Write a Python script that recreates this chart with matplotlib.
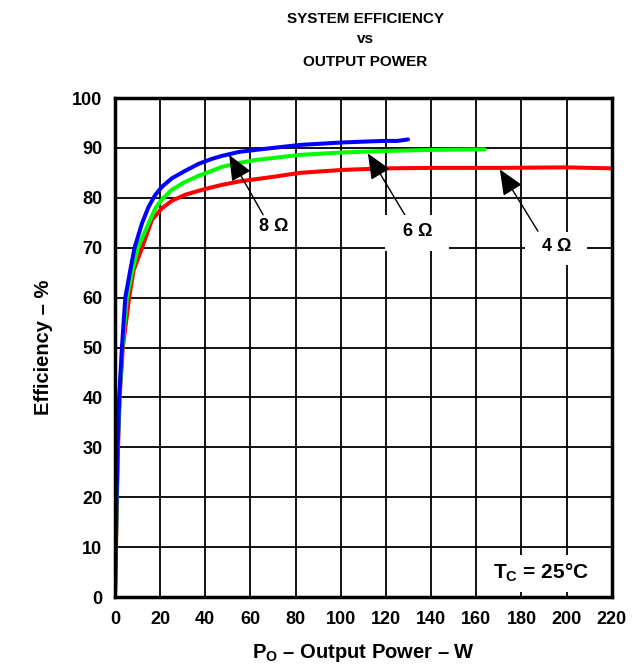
import matplotlib
matplotlib.use("Agg")
import matplotlib.pyplot as plt
from matplotlib.patches import Rectangle

plt.rcParams['font.family'] = ['Liberation Sans', 'DejaVu Sans']
plt.rcParams['font.weight'] = 'bold'
plt.rcParams['mathtext.fontset'] = 'custom'
plt.rcParams['mathtext.rm'] = 'Liberation Sans:bold'
plt.rcParams['mathtext.bf'] = 'Liberation Sans:bold'
plt.rcParams['mathtext.it'] = 'Liberation Sans:bold'

# 8 ohm (blue)
p_8 = [0, 0.4, 0.75, 1.2, 1.9, 3.1, 4.6, 6.8, 8.7, 12.0, 14.9, 17.9, 20.8,
       25.2, 31.1, 37.0, 42.9, 47.4, 55, 64.2, 81.9, 101, 118.7, 125, 129.8]
e_8 = [0, 10, 20, 30, 40, 50, 60, 65.5, 70, 74.9, 78.2, 80.6, 82.2,
       83.9, 85.4, 86.8, 87.8, 88.4, 89.2, 89.7, 90.6, 91.1, 91.4, 91.4, 91.7]
# 6 ohm (green)
p_6 = [0, 0.45, 0.8, 1.3, 2.0, 3.3, 5.3, 7.8, 10.2, 14.9, 17.9, 20.8, 25.2,
       31.1, 37.0, 42.9, 47.4, 55, 62.7, 81.9, 101, 120.2, 140.8, 163.7]
e_6 = [0, 10, 20, 30, 40, 50, 60, 65.5, 70, 74.9, 77.9, 79.7, 81.6,
       83.2, 84.4, 85.4, 86.2, 87.0, 87.6, 88.6, 89.1, 89.4, 89.6, 89.7]
# 4 ohm (red)
p_4 = [0, 0.5, 0.9, 1.4, 2.1, 3.5, 6.3, 8.3, 12.0, 16.4, 20.8, 25.2, 31.1,
       37.0, 42.9, 47.4, 55.3, 70, 81.9, 101, 120.2, 140.8, 170.4, 199.9, 219.8]
e_4 = [0, 10, 20, 30, 40, 50, 60, 65.5, 70, 75.6, 77.9, 79.4, 80.6,
       81.4, 82.1, 82.6, 83.3, 84.2, 85.0, 85.6, 85.9, 86.0, 86.0, 86.1, 85.9]

x_ticks = list(range(0, 221, 20))
y_ticks = list(range(0, 101, 10))

labels = ['8 Ω', '6 Ω', '4 Ω']
label_pos = [(70.1, 74.2), (133.9, 73.2), (195.5, 70.2)]
arrow_tail = [(65.6, 76.6), (128.6, 76.4), (187.3, 73.3)]
arrow_tip = [(50.6, 88.6), (112.0, 88.9), (170.4, 85.7)]
# white boxes behind labels: (x0, y0, x1, y1) in data units
label_boxes = [(62.0, 71.9, 78.4, 76.1), (119.7, 69.3, 147.9, 76.6),
               (181.5, 66.5, 208.9, 73.1)]

fig = plt.figure(figsize=(6.42, 6.64), dpi=100)
ax = fig.add_axes([0.179, 0.1009, 0.774, 0.7515])

ax.set_xlim(0, 220)
ax.set_ylim(0, 100)
ax.set_xticks(x_ticks)
ax.set_yticks(y_ticks)
ax.tick_params(length=0, labelsize=13)
ax.tick_params(axis='x', pad=10)
ax.tick_params(axis='y', pad=9)
for lab in ax.get_xticklabels() + ax.get_yticklabels():
    lab.set_fontweight('bold')
ax.grid(True, color='black', linewidth=1.3)
ax.set_axisbelow(True)
for s in ax.spines.values():
    s.set_linewidth(2.5)
    s.set_color('black')
    s.set_zorder(10)

line_kw = dict(lw=2.9, solid_capstyle='round', solid_joinstyle='round')
ax.plot(p_4, e_4, color='#ff0000', zorder=3, **line_kw)
ax.plot(p_6, e_6, color='#00ff00', zorder=4, **line_kw)
ax.plot(p_8, e_8, color='#0000ff', zorder=5, **line_kw)

for lab, pos, tail, tip, bx in zip(labels, label_pos, arrow_tail, arrow_tip, label_boxes):
    ax.annotate('', xy=tip, xytext=tail,
                arrowprops=dict(arrowstyle='-|>,head_length=1.05,head_width=0.45',
                                mutation_scale=15, color='black', lw=1,
                                shrinkA=0, shrinkB=0), zorder=6)
    ax.add_patch(Rectangle((bx[0], bx[1]), bx[2] - bx[0], bx[3] - bx[1],
                           fc='white', ec='none', zorder=6.5))
    ax.text(pos[0], pos[1], lab, ha='center', va='center', fontsize=13,
            fontweight='bold', zorder=7)

ax.add_patch(Rectangle((163, 1.0), 51, 7.4, fc='white', ec='none', zorder=6.5))
ax.text(188.8, 4.9, r'T$_\mathregular{C}$ = 25°C', ha='center', va='center',
        fontsize=15, fontweight='bold', zorder=7)

ax.set_xlabel(r'P$_\mathregular{O}$ – Output Power – W', fontsize=14.5,
              fontweight='bold', labelpad=10)
ax.set_ylabel('Efficiency – %', fontsize=14.5, fontweight='bold', labelpad=14)

fig.text(0.569, 0.972, 'SYSTEM EFFICIENCY', ha='center', va='center',
         fontsize=11, fontweight='bold')
fig.text(0.569, 0.942, 'vs', ha='center', va='center',
         fontsize=11, fontweight='bold')
fig.text(0.569, 0.906, 'OUTPUT POWER', ha='center', va='center',
         fontsize=11, fontweight='bold')

fig.savefig('out.png', dpi=100)
